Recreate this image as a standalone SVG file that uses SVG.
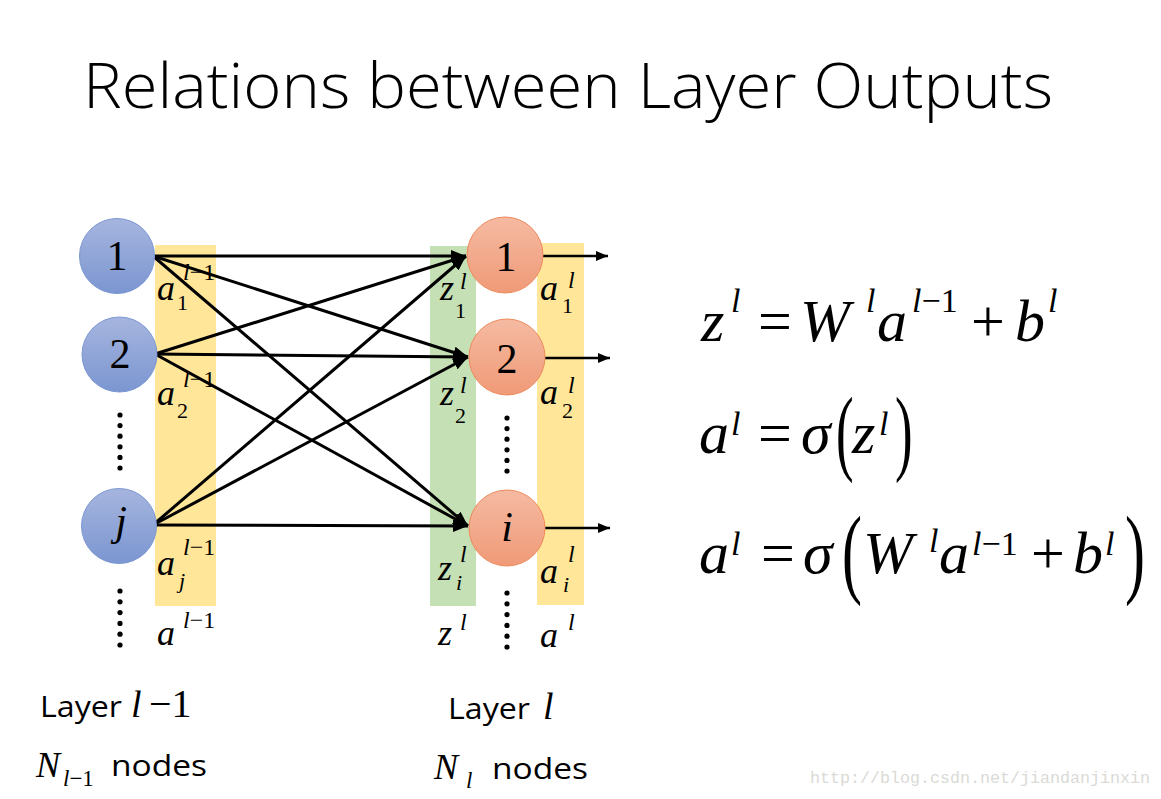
<svg xmlns="http://www.w3.org/2000/svg" width="1161" height="799" viewBox="0 0 1161 799">
<defs>
<linearGradient id="gBlue" x1="0" y1="0" x2="0" y2="1"><stop offset="0" stop-color="#a6b5de"/><stop offset="1" stop-color="#7b96d1"/></linearGradient>
<linearGradient id="gOrange" x1="0" y1="0" x2="0" y2="1"><stop offset="0" stop-color="#f5baa2"/><stop offset="1" stop-color="#f09a77"/></linearGradient>
<marker id="ah" markerUnits="userSpaceOnUse" markerWidth="15" markerHeight="12" refX="15" refY="6" orient="auto"><path d="M0,0 L15,6 L0,12 Z" fill="#000"/></marker>
<marker id="ah2" markerUnits="userSpaceOnUse" markerWidth="12" markerHeight="10" refX="12" refY="5" orient="auto"><path d="M0,0 L12,5 L0,10 Z" fill="#000"/></marker>
</defs>
<style>
.m{font-family:"Liberation Serif",serif;font-style:italic;fill:#000}
.u{font-family:"Liberation Serif",serif;font-style:normal;fill:#000}
.s{font-family:"Open Sans","Liberation Sans",sans-serif;fill:#000}
.lbl{font-size:36px}
.sup{font-size:24px}
.sub{font-size:22px}
.eq{font-size:60px}
.esup{font-size:34px}
.bn{fill:url(#gBlue);stroke:#7b97d3;stroke-width:1}
.on{fill:url(#gOrange);stroke:#ee8a5c;stroke-width:1}
.nd{font-size:42px;text-anchor:middle}
.c{stroke:#000;stroke-width:3;fill:none;marker-end:url(#ah)}
.o{stroke:#000;stroke-width:2.5;fill:none;marker-end:url(#ah2)}
.dot{fill:#000}
</style>
<rect width="1161" height="799" fill="#fff"/>
<text id="title" class="s" x="83" y="108" font-size="62" font-weight="300" textLength="970" lengthAdjust="spacingAndGlyphs">Relations between Layer Outputs</text>

<!-- bands -->
<rect x="155" y="245" width="61" height="361" fill="#ffe699"/>
<rect x="430" y="246" width="46" height="360" fill="#c5e0b4"/>
<rect x="537" y="243" width="47" height="362" fill="#ffe699"/>

<g id="connectors">
<line class="c" x1="153" y1="256" x2="466" y2="256"/>
<line class="c" x1="153" y1="256" x2="468" y2="357"/>
<line class="c" x1="153" y1="256" x2="468" y2="526"/>
<line class="c" x1="155" y1="354" x2="466" y2="256"/>
<line class="c" x1="155" y1="354" x2="468" y2="357"/>
<line class="c" x1="155" y1="354" x2="468" y2="526"/>
<line class="c" x1="153" y1="525" x2="466" y2="256"/>
<line class="c" x1="153" y1="525" x2="468" y2="357"/>
<line class="c" x1="153" y1="525" x2="468" y2="526"/>
<line class="o" x1="543" y1="256" x2="608" y2="256"/>
<line class="o" x1="545" y1="358" x2="610" y2="358"/>
<line class="o" x1="545" y1="528" x2="610" y2="528"/>
</g>

<g id="node-l1"><circle class="bn" cx="117" cy="256" r="37.5"/><text class="u nd" x="117" y="270">1</text></g>
<g id="node-l2"><circle class="bn" cx="119.5" cy="354.5" r="37.5"/><text class="u nd" x="120" y="368">2</text></g>
<g id="node-lj"><circle class="bn" cx="119" cy="526" r="37.5"/><text class="m nd" x="121" y="535">j</text></g>
<g id="node-r1"><circle class="on" cx="505" cy="255" r="38"/><text class="u nd" x="506" y="271">1</text></g>
<g id="node-r2"><circle class="on" cx="507" cy="357" r="38"/><text class="u nd" x="507" y="373">2</text></g>
<g id="node-ri"><circle class="on" cx="507" cy="528" r="38"/><text class="m nd" x="507" y="541">i</text></g>

<g id="dots">
<circle class="dot" cx="120" cy="415" r="2.6"/><circle class="dot" cx="120" cy="425.6" r="2.6"/><circle class="dot" cx="120" cy="436.2" r="2.6"/><circle class="dot" cx="120" cy="446.8" r="2.6"/><circle class="dot" cx="120" cy="457.4" r="2.6"/><circle class="dot" cx="120" cy="468" r="2.6"/>
<circle class="dot" cx="120" cy="591" r="2.6"/><circle class="dot" cx="120" cy="601.8" r="2.6"/><circle class="dot" cx="120" cy="612.6" r="2.6"/><circle class="dot" cx="120" cy="623.4" r="2.6"/><circle class="dot" cx="120" cy="634.2" r="2.6"/><circle class="dot" cx="120" cy="645" r="2.6"/>
<circle class="dot" cx="507" cy="418" r="2.6"/><circle class="dot" cx="507" cy="428.6" r="2.6"/><circle class="dot" cx="507" cy="439.2" r="2.6"/><circle class="dot" cx="507" cy="449.8" r="2.6"/><circle class="dot" cx="507" cy="460.4" r="2.6"/><circle class="dot" cx="507" cy="471" r="2.6"/>
<circle class="dot" cx="507" cy="593" r="2.6"/><circle class="dot" cx="507" cy="603.8" r="2.6"/><circle class="dot" cx="507" cy="614.6" r="2.6"/><circle class="dot" cx="507" cy="625.4" r="2.6"/><circle class="dot" cx="507" cy="636.2" r="2.6"/><circle class="dot" cx="507" cy="647" r="2.6"/>
</g>

<g id="labels-left">
<text class="m lbl" x="157" y="300">a</text><text class="u sub" x="177" y="310">1</text><text class="m sup" x="183" y="280">l<tspan class="u">−1</tspan></text>
<text class="m lbl" x="157" y="405">a</text><text class="u sub" x="177" y="418">2</text><text class="m sup" x="183" y="387">l<tspan class="u">−1</tspan></text>
<text class="m lbl" x="157" y="575">a</text><text class="m sub" x="179" y="588">j</text><text class="m sup" x="183" y="555">l<tspan class="u">−1</tspan></text>
<text class="m lbl" x="157" y="645">a</text><text class="m sup" x="183" y="628">l<tspan class="u">−1</tspan></text>
</g>

<g id="labels-z">
<text class="m lbl" x="440" y="300">z</text><text class="u sub" x="455" y="318">1</text><text class="m sup" x="460" y="289">l</text>
<text class="m lbl" x="440" y="405">z</text><text class="u sub" x="455" y="423">2</text><text class="m sup" x="460" y="393">l</text>
<text class="m lbl" x="438" y="580">z</text><text class="m sub" x="456" y="590">i</text><text class="m sup" x="460" y="562">l</text>
<text class="m lbl" x="438" y="645">z</text><text class="m sup" x="460" y="630">l</text>
</g>

<g id="labels-a">
<text class="m lbl" x="540" y="300">a</text><text class="u sub" x="562" y="313">1</text><text class="m sup" x="568" y="288">l</text>
<text class="m lbl" x="540" y="404">a</text><text class="u sub" x="562" y="418">2</text><text class="m sup" x="568" y="393">l</text>
<text class="m lbl" x="540" y="583">a</text><text class="m sub" x="563" y="592">i</text><text class="m sup" x="568" y="562">l</text>
<text class="m lbl" x="540" y="647">a</text><text class="m sup" x="568" y="630">l</text>
</g>

<g id="eq1">
<text class="m eq" x="701" y="341">z</text><text class="m esup" x="731" y="312">l</text>
<text class="u eq" x="758" y="341">=</text>
<text class="m eq" x="800" y="341">W</text><text class="m esup" x="866" y="312">l</text>
<text class="m eq" x="877" y="341">a</text><text class="m esup" x="912" y="312">l<tspan class="u">−1</tspan></text>
<text class="u eq" x="971" y="341">+</text>
<text class="m eq" x="1015" y="341">b</text><text class="m esup" x="1048" y="312">l</text>
</g>

<g id="eq2">
<text class="m eq" x="699" y="453">a</text><text class="m esup" x="731" y="435">l</text>
<text class="u eq" x="758" y="453">=</text>
<text class="m eq" x="801" y="453">σ</text>
<text class="u" font-size="96" transform="translate(836,463) scale(0.55,1)">(</text>
<text class="m eq" x="852" y="453">z</text><text class="m esup" x="879" y="435">l</text>
<text class="u" font-size="96" transform="translate(895,463) scale(0.55,1)">)</text>
</g>

<g id="eq3">
<text class="m eq" x="699" y="573">a</text><text class="m esup" x="731" y="555">l</text>
<text class="u eq" x="761" y="573">=</text>
<text class="m eq" x="803" y="573">σ</text>
<text class="u" font-size="100" transform="translate(842,585) scale(0.6,1)">(</text>
<text class="m eq" x="863" y="573">W</text><text class="m esup" x="929" y="552">l</text>
<text class="m eq" x="939" y="573">a</text><text class="m esup" x="972" y="555">l<tspan class="u">−1</tspan></text>
<text class="u eq" x="1031" y="573">+</text>
<text class="m eq" x="1073" y="573">b</text><text class="m esup" x="1105" y="555">l</text>
<text class="u" font-size="100" transform="translate(1125,585) scale(0.6,1)">)</text>
</g>

<g id="layer-prev">
<text class="s" x="40" y="717" font-size="30" textLength="82" lengthAdjust="spacingAndGlyphs">Layer</text>
<text class="m" x="131" y="717" font-size="38">l</text>
<text class="u" x="149" y="717" font-size="40">−1</text>
<text class="m" x="36" y="777" font-size="36">N</text>
<text class="m" x="63" y="786" font-size="23">l<tspan class="u">−1</tspan></text>
<text class="s" x="111" y="776" font-size="30" textLength="96" lengthAdjust="spacingAndGlyphs">nodes</text>
</g>
<g id="layer-cur">
<text class="s" x="448" y="719" font-size="30" textLength="82" lengthAdjust="spacingAndGlyphs">Layer</text>
<text class="m" x="543" y="719" font-size="38">l</text>
<text class="m" x="434" y="779" font-size="36">N</text>
<text class="m" x="466" y="788" font-size="23">l</text>
<text class="s" x="492" y="779" font-size="30" textLength="96" lengthAdjust="spacingAndGlyphs">nodes</text>
</g>

<text id="watermark" x="810" y="783" font-family="'Liberation Mono',monospace" font-size="16.5" fill="#dadad6" textLength="340" lengthAdjust="spacingAndGlyphs">http://blog.csdn.net/jiandanjinxin</text>
</svg>
